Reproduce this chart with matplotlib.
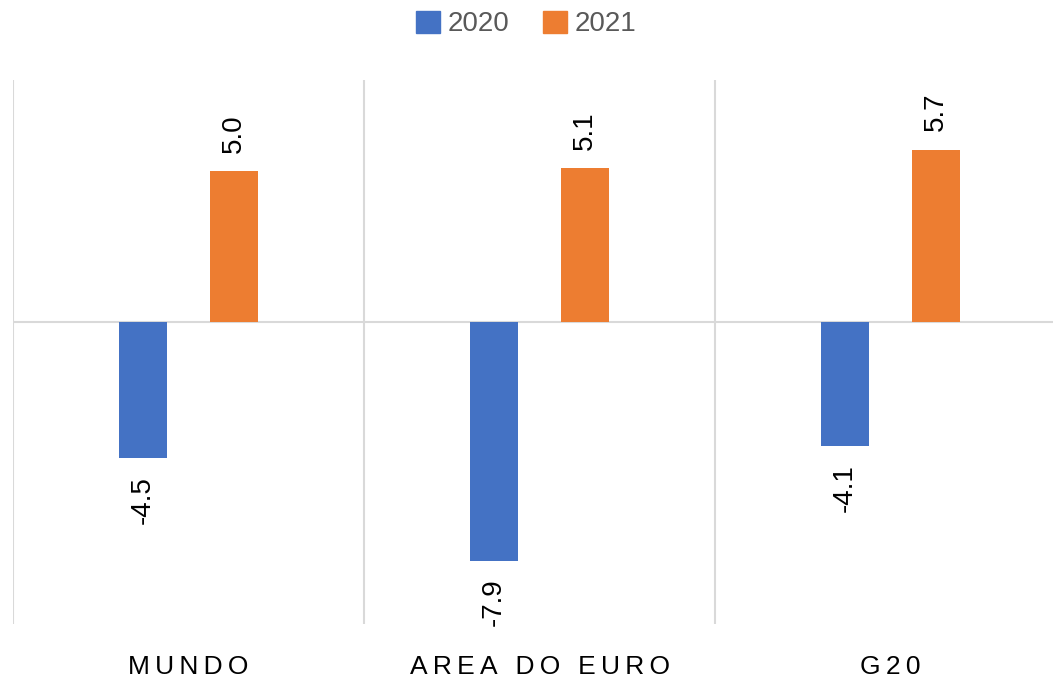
import numpy as np
from matplotlib import pyplot as plt
from matplotlib.patches import Patch

categories = ["MUNDO", "AREA DO EURO", "G20"]
series = ["2020", "2021"]
vals_2020 = [-4.5, -7.9, -4.1]
vals_2021 = [5.0, 5.1, 5.7]
colors = ["#4472C4", "#ED7D31"]

plt.rcParams['font.family'] = ['Liberation Sans', 'DejaVu Sans']

fig = plt.figure(figsize=(10.53, 6.79), dpi=100)
# right edge runs past the image, like the source
ax = fig.add_axes([13/1053, 55/679, 1053/1053, 544/679])

x = np.arange(len(categories))
w = 0.136
off = 0.129
b1 = ax.bar(x - off, vals_2020, w, color=colors[0])
b2 = ax.bar(x + off, vals_2021, w, color=colors[1])

for bars in (b1, b2):
    for r in bars:
        v = r.get_height()
        cx = r.get_x() + r.get_width() / 2
        if v >= 0:
            ax.annotate("%.1f" % v, (cx, v), xytext=(0, 13), textcoords='offset points',
                        rotation=90, ha='center', va='bottom', fontsize=20)
        else:
            ax.annotate("%.1f" % v, (cx, v), xytext=(0, -13), textcoords='offset points',
                        rotation=90, ha='center', va='top', fontsize=20)

ax.set_xlim(-0.5, 2.5)
ax.set_ylim(-10, 8)
ax.axhline(0, color='#d9d9d9', lw=1.5, zorder=0)
for b in [-0.5, 0.5, 1.5, 2.5]:
    ax.axvline(b, color='#d9d9d9', lw=1.5, zorder=0)

for s in ax.spines.values():
    s.set_visible(False)
ax.set_yticks([])
ax.set_xticks(x)
ax.set_xticklabels(["\u2009".join(c) for c in categories], fontsize=19)
ax.tick_params(axis='x', length=0, pad=22)

handles = [Patch(color=c) for c in colors]
fig.legend(handles, series, loc='center', bbox_to_anchor=(0.5, 1 - 24/679),
           ncol=2, frameon=False, fontsize=20, handlelength=0.85, handleheight=0.85,
           handletextpad=0.3, columnspacing=1.2, labelcolor='#595959')

plt.savefig('out.png')
